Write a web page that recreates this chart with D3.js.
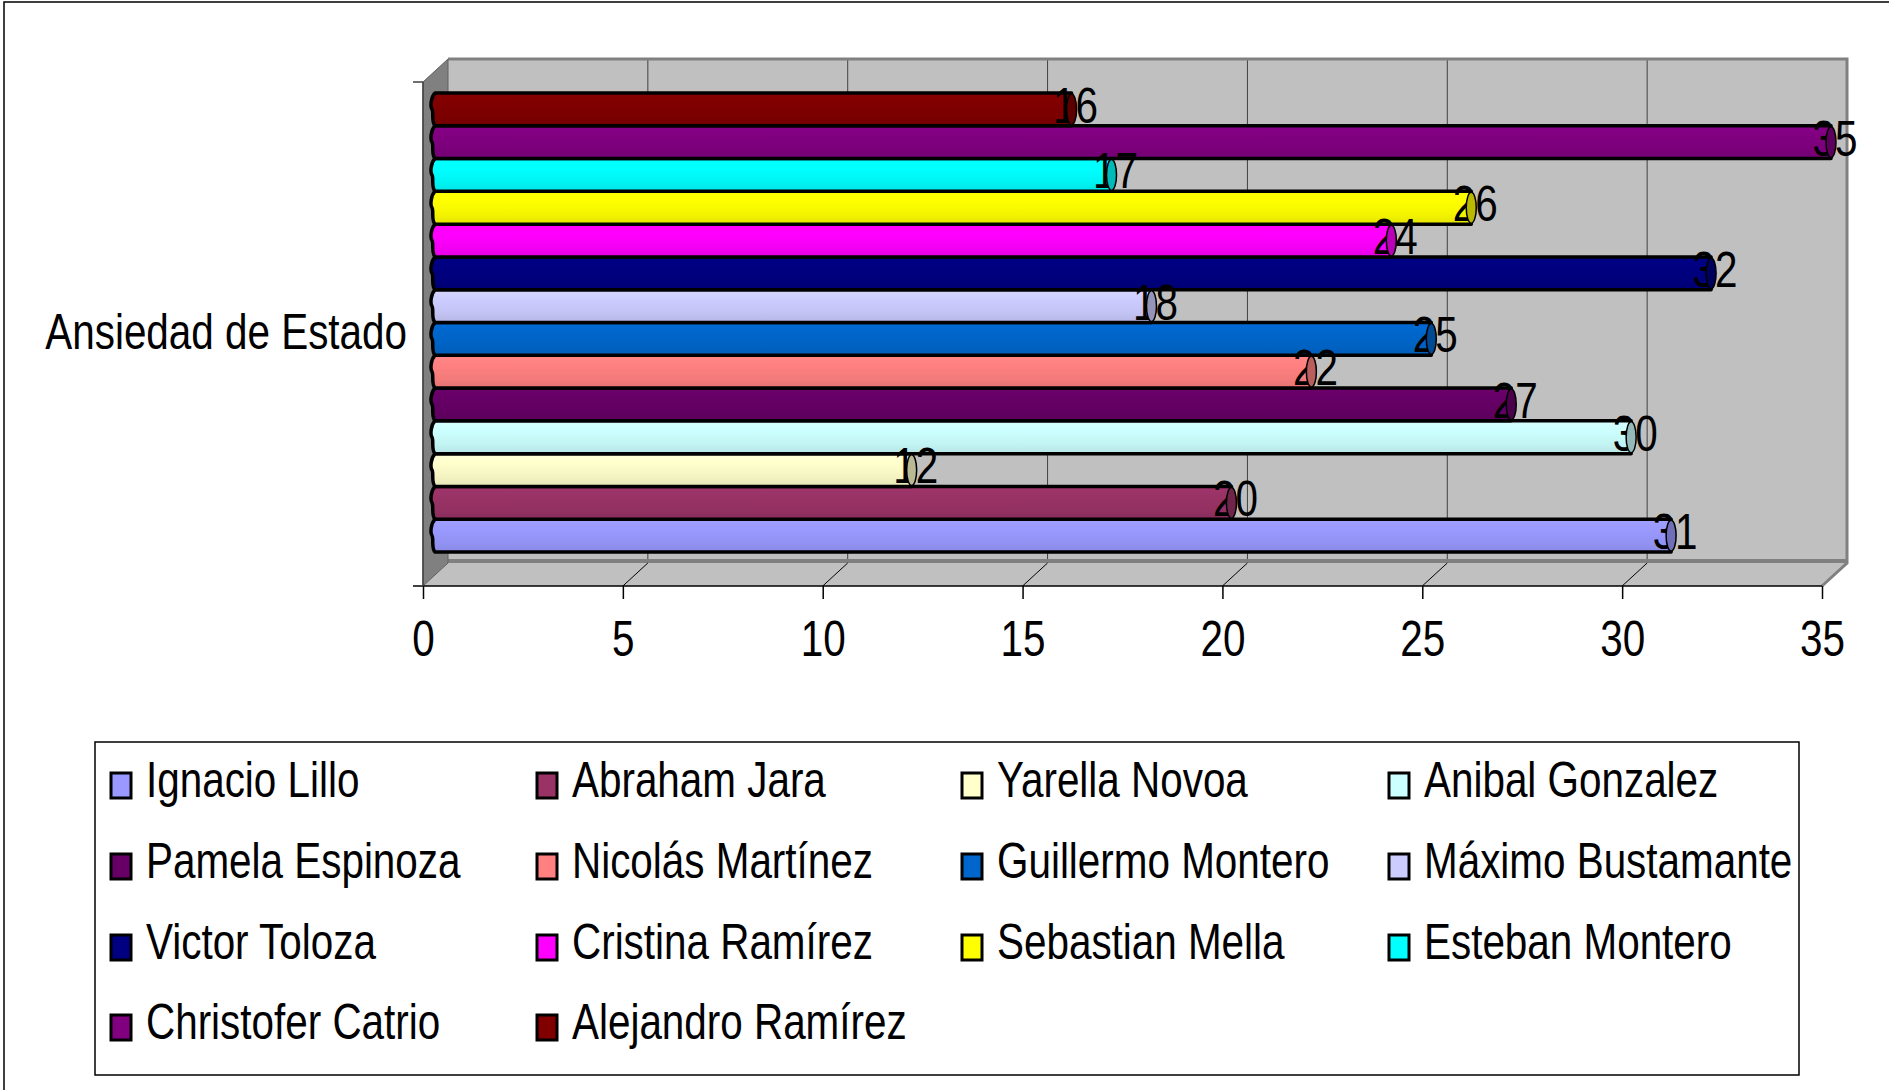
<!DOCTYPE html>
<html>
<head>
<meta charset="utf-8">
<script src="https://cdn.jsdelivr.net/npm/d3@7"></script>
<style>
  body { margin: 0; background: #fff; }
  text { font-family: "Liberation Sans", Arial, sans-serif; fill: #000; }
</style>
</head>
<body>
<script>
//Width and height
var w = 1889;
var h = 1090;

//Data (series order = legend order)
var category = "Ansiedad de Estado";
var names = ["Ignacio Lillo", "Abraham Jara", "Yarella Novoa", "Anibal Gonzalez",
             "Pamela Espinoza", "Nicolás Martínez", "Guillermo Montero", "Máximo Bustamante",
             "Victor Toloza", "Cristina Ramírez", "Sebastian Mella", "Esteban Montero",
             "Christofer Catrio", "Alejandro Ramírez"];
var values = [31, 20, 12, 30, 27, 22, 25, 18, 32, 24, 26, 17, 35, 16];
var colors = ["#9999FF", "#993366", "#FFFFCC", "#CCFFFF",
              "#660066", "#FF8080", "#0066CC", "#CCCCFF",
              "#000080", "#FF00FF", "#FFFF00", "#00FFFF",
              "#800080", "#800000"];
var ticks = [0, 5, 10, 15, 20, 25, 30, 35];

//narrow look: no condensed font installed, so squeeze horizontally
var SQ = "scale(0.825,1.02)";
var FS = 49;

//3D box geometry
var DX = 25, DY = -23;          //depth offset of the back wall
var yTop = 82, yBot = 586;      //front plane vertical extent
var barDepth = 0.36;            //bars sit a bit behind the front plane

var x = d3.scaleLinear().domain([0, 35]).range([423, 1822]);

//series 1 at the bottom, last series at the top
var y = d3.scaleBand()
          .domain(d3.range(names.length).reverse())
          .range([93, 552])
          .paddingInner(0);

var svg = d3.select("body").append("svg")
            .attr("width", w)
            .attr("height", h);

//outer chart border
svg.append("rect")
   .attr("x", 4).attr("y", 2)
   .attr("width", w + 10).attr("height", h + 10)
   .attr("fill", "none").attr("stroke", "#000").attr("stroke-width", 1.5);

var defs = svg.append("defs");
colors.forEach(function(c, i) {
    var g = defs.append("linearGradient")
                .attr("id", "grad" + i)
                .attr("x1", 0).attr("y1", 0).attr("x2", 0).attr("y2", 1);
    var base = d3.color(c);
    g.append("stop").attr("offset", "0%").attr("stop-color", base.brighter(0.15));
    g.append("stop").attr("offset", "30%").attr("stop-color", base);
    g.append("stop").attr("offset", "70%").attr("stop-color", base.darker(0.12));
    g.append("stop").attr("offset", "100%").attr("stop-color", base.darker(0.3));
});

//back wall
svg.append("rect")
   .attr("x", x(0) + DX).attr("y", yTop + DY)
   .attr("width", x(35) - x(0)).attr("height", yBot - yTop)
   .attr("fill", "#C0C0C0");

//floor
svg.append("path")
   .attr("d", "M" + (x(0) + DX) + "," + (yBot + DY) +
              "L" + (x(35) + DX) + "," + (yBot + DY) +
              "L" + x(35) + "," + yBot +
              "L" + x(0) + "," + yBot + "Z")
   .attr("fill", "#C0C0C0");

//floor thickness at the foot of the back wall
svg.append("line")
   .attr("x1", x(0) + DX).attr("x2", x(35) + DX)
   .attr("y1", yBot + DY - 2).attr("y2", yBot + DY - 2)
   .attr("stroke", "#808080").attr("stroke-width", 4);

//gridlines on wall and floor
var inner = ticks.slice(1, -1);
svg.selectAll(".grid")
   .data(inner).enter().append("line")
   .attr("class", "grid")
   .attr("x1", function(d) { return x(d) + DX; })
   .attr("x2", function(d) { return x(d) + DX; })
   .attr("y1", yTop + DY)
   .attr("y2", yBot + DY - 4)
   .attr("stroke", "#404040").attr("stroke-width", 1);

svg.selectAll(".floorgrid")
   .data(inner).enter().append("line")
   .attr("class", "floorgrid")
   .attr("x1", function(d) { return x(d) + DX; })
   .attr("x2", function(d) { return x(d); })
   .attr("y1", yBot + DY)
   .attr("y2", yBot)
   .attr("stroke", "#000").attr("stroke-width", 1);

//wall edges
svg.append("path")
   .attr("d", "M" + (x(0) + DX) + "," + (yTop + DY) + "L" + (x(35) + DX) + "," + (yTop + DY) +
              "L" + (x(35) + DX) + "," + (yBot + DY) + "L" + x(35) + "," + yBot)
   .attr("fill", "none").attr("stroke", "#808080").attr("stroke-width", 3);

//side wall
svg.append("path")
   .attr("d", "M" + x(0) + "," + yTop +
              "L" + (x(0) + DX) + "," + (yTop + DY) +
              "L" + (x(0) + DX) + "," + (yBot + DY) +
              "L" + x(0) + "," + yBot + "Z")
   .attr("fill", "#808080")
   .attr("stroke", "#606060").attr("stroke-width", 1);

//bars (cylinders)
var bx0 = x(0) + DX * barDepth;
function barEnd(v) { return x(v) + DX * barDepth; }

svg.selectAll(".bar")
   .data(values).enter().append("path")
   .attr("class", "bar")
   .attr("d", function(d, i) {
        var y0 = y(i), y1 = y(i) + y.bandwidth(), ym = (y0 + y1) / 2;
        var x1 = barEnd(d);
        return "M" + (bx0 + 3) + "," + y0 +
               "L" + x1 + "," + y0 +
               "L" + x1 + "," + y1 +
               "L" + (bx0 + 3) + "," + y1 +
               "C" + (bx0 - 1) + "," + (y1 - 4) + " " + (bx0 + 2) + "," + (ym + 3) + " " + bx0 + "," + ym +
               "C" + (bx0 - 2) + "," + (ym - 3) + " " + (bx0 - 1) + "," + (y0 + 4) + " " + (bx0 + 3) + "," + y0 + "Z";
   })
   .attr("fill", function(d, i) { return "url(#grad" + i + ")"; })
   .attr("stroke", "#000")
   .attr("stroke-width", 3.5)
   .attr("stroke-linejoin", "round");

//value labels
svg.selectAll(".val")
   .data(values).enter().append("g")
   .attr("class", "val")
   .attr("transform", function(d, i) {
        return "translate(" + (barEnd(d) + 4) + "," + (y(i) + y.bandwidth() - 3) + ")";
   })
   .append("text")
   .attr("transform", SQ)
   .attr("text-anchor", "middle")
   .attr("font-size", FS)
   .text(function(d) { return d; });

//end caps
svg.selectAll(".cap")
   .data(values).enter().append("ellipse")
   .attr("class", "cap")
   .attr("cx", function(d) { return barEnd(d); })
   .attr("cy", function(d, i) { return y(i) + y.bandwidth() / 2; })
   .attr("rx", 5)
   .attr("ry", y.bandwidth() / 2 - 1)
   .attr("fill", function(d, i) { return d3.color(colors[i]).darker(0.9); })
   .attr("stroke", "#000")
   .attr("stroke-width", 1.5);

//value axis
var axisG = svg.append("g")
   .attr("transform", "translate(0," + yBot + ")")
   .call(d3.axisBottom(x).tickValues(ticks).tickSize(13).tickPadding(21).tickSizeOuter(0));
axisG.select(".domain").attr("stroke", "#000").attr("stroke-width", 1.5)
     .attr("d", "M" + (x(0) - 10) + ",0H" + x(35));
axisG.selectAll(".tick line").attr("stroke", "#000").attr("stroke-width", 1.5);
axisG.selectAll(".tick text")
     .attr("font-family", "'Liberation Sans', Arial, sans-serif")
     .attr("font-size", FS)
     .attr("fill", "#000")
     .attr("transform", SQ)
     .attr("dy", "0.71em");

//category axis
svg.append("line")
   .attr("x1", x(0)).attr("x2", x(0)).attr("y1", yTop).attr("y2", yBot)
   .attr("stroke", "#404040").attr("stroke-width", 1.5);
svg.selectAll(".ctick")
   .data([yTop, yBot]).enter().append("line")
   .attr("class", "ctick")
   .attr("x1", x(0) - 10).attr("x2", x(0))
   .attr("y1", function(d) { return d; }).attr("y2", function(d) { return d; })
   .attr("stroke", "#404040").attr("stroke-width", 1.5);

svg.append("g")
   .attr("transform", "translate(407,349)")
   .append("text")
   .attr("transform", SQ)
   .attr("text-anchor", "end")
   .attr("font-size", FS)
   .text(category);

//legend
var legend = svg.append("g");
legend.append("rect")
   .attr("x", 95).attr("y", 742)
   .attr("width", 1704).attr("height", 333)
   .attr("fill", "#fff").attr("stroke", "#000").attr("stroke-width", 1.5);

var colX = [111, 537, 962, 1389];
var rowY = [797, 878, 959, 1039];

var items = legend.selectAll(".item")
   .data(names).enter().append("g")
   .attr("class", "item")
   .attr("transform", function(d, i) {
        return "translate(" + colX[i % 4] + "," + rowY[Math.floor(i / 4)] + ")";
   });

items.append("rect")
   .attr("x", 0).attr("y", -24)
   .attr("width", 20).attr("height", 25)
   .attr("fill", function(d, i) { return colors[i]; })
   .attr("stroke", "#000").attr("stroke-width", 3);

items.append("text")
   .attr("transform", "translate(35,0) " + SQ)
   .attr("font-size", FS)
   .text(function(d) { return d; });
</script>
</body>
</html>
